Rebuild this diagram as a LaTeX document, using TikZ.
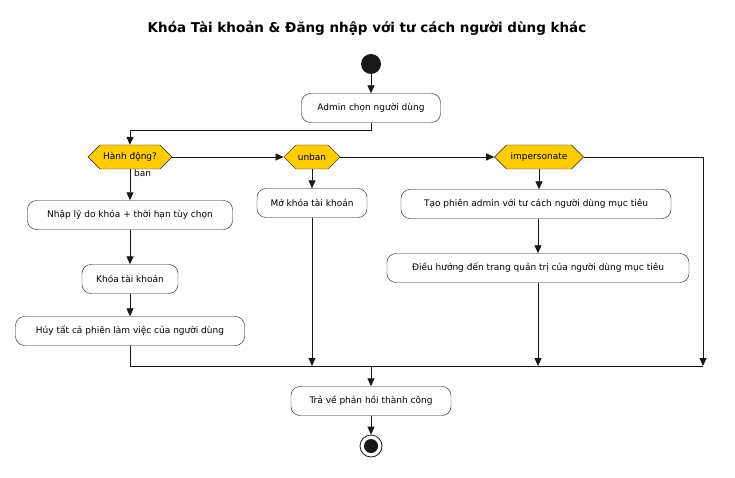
\documentclass[tikz,border=0pt]{standalone}
\usepackage{fontspec}
\setmainfont{DejaVu Sans}
\usetikzlibrary{arrows.meta,shapes.symbols}
\definecolor{dgold}{HTML}{FFCC00}
\definecolor{dline}{HTML}{181818}
\tikzset{
  act/.style={draw=dline,fill=white,rounded corners=9pt,minimum height=29pt,font=\fontsize{9}{11}\selectfont},
  dec/.style={draw=dline,fill=dgold,signal,signal to=east and west,signal pointer angle=90,minimum height=24pt,inner xsep=2pt,font=\fontsize{9}{11}\selectfont},
  flow/.style={draw=dline,line width=0.8pt,-{Triangle[length=8pt,width=7pt]}},
  bar/.style={draw=dline,line width=0.8pt}
}
\begin{document}
\begin{tikzpicture}[x=1pt,y=-1pt]
\useasboundingbox (0,0) rectangle (735,478);
\node[font=\bfseries\fontsize{13.5}{15}\selectfont] (title) at (367,28) {Khóa Tài khoản \& Đăng nhập với tư cách người dùng khác};
% start / stop
\node[circle,fill=dline,minimum size=20pt,inner sep=0] (start) at (371,64) {};
\node[circle,draw=dline,line width=0.8pt,minimum size=22pt,inner sep=0] (stop) at (371,446) {};
\node[circle,fill=dline,minimum size=14pt,inner sep=0] at (stop) {};
% actions
\node[act,minimum width=139pt] (pick) at (371,108) {Admin chọn người dùng};
\node[dec,minimum width=84pt] (act) at (130,157) {Hành động?};
\node[dec,minimum width=56pt] (unban) at (312,157) {unban};
\node[dec,minimum width=89pt] (imp) at (539,157) {impersonate};
\node[act,minimum width=205pt] (reason) at (130,215) {Nhập lý do khóa + thời hạn tùy chọn};
\node[act,minimum width=96pt] (lock) at (130,279) {Khóa tài khoản};
\node[act,minimum width=229pt] (kill) at (130,331) {Hủy tất cả phiên làm việc của người dùng};
\node[act,minimum width=110pt] (unlock) at (312,203) {Mở khóa tài khoản};
\node[act,minimum width=270pt] (sess) at (536,204) {Tạo phiên admin với tư cách người dùng mục tiêu};
\node[act,minimum width=302pt] (nav) at (538,268) {Điều hướng đến trang quản trị của người dùng mục tiêu};
\node[act,minimum width=160pt] (ok) at (371,401) {Trả về phản hồi thành công};
\node[anchor=north west,font=\fontsize{9}{11}\selectfont,inner sep=0] (banlbl) at (134,169) {ban};
% merge points
\coordinate (m1) at (130,366);
\coordinate (m2) at (312,366);
\coordinate (m3) at (538,366);
\coordinate (m4) at (703,366);
\coordinate (mc) at (371,366);
\coordinate (corner) at (703,157);
% connectors
\draw[flow] (start) -- (pick);
\draw[flow] (pick.south) -- ++(0,8) -| (act.north);
\draw[flow] (act.east) -- (unban.west);
\draw[flow] (unban.east) -- (imp.west);
\draw[flow] (act.south) -- (reason);
\draw[flow] (reason) -- (lock);
\draw[flow] (lock) -- (kill);
\draw[flow] (unban.south) -- (unlock);
\draw[flow] (imp.south) -- (imp.south |- sess.north);
\draw[flow] (sess.south -| nav.north) -- (nav);
\draw[bar] (kill) -- (m1) -- (m4);
\draw[flow] (unlock) -- (m2);
\draw[flow] (nav) -- (m3);
\draw[flow] (imp.east) -- (corner) -- (m4);
\draw[flow] (mc) -- (ok);
\draw[flow] (ok) -- (stop);
\end{tikzpicture}
\end{document}
